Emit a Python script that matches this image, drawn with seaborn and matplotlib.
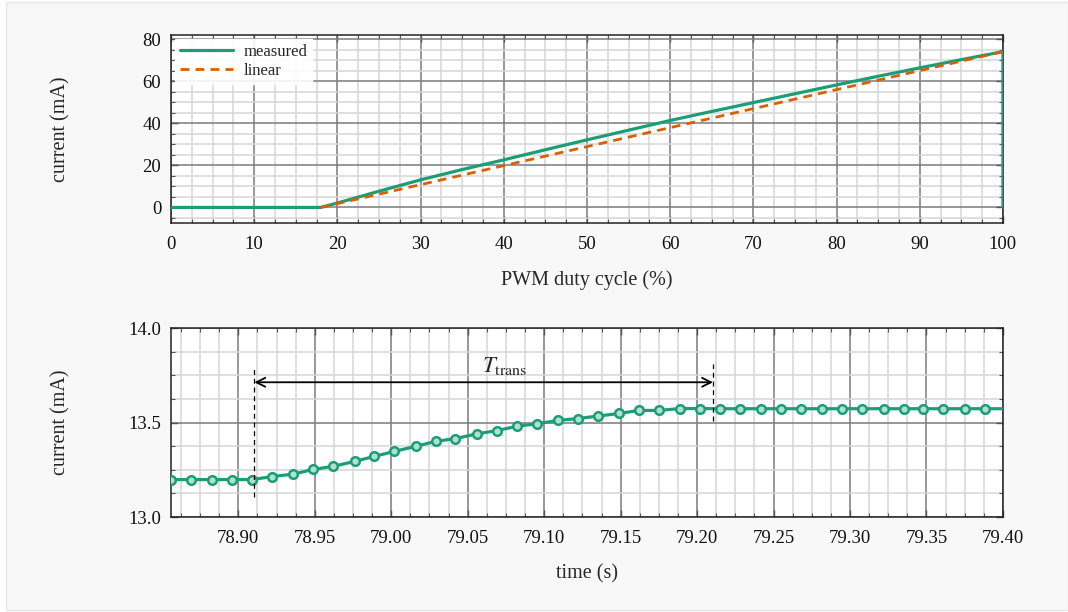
import numpy as np
import pandas as pd
import matplotlib
matplotlib.use("Agg")
import matplotlib.pyplot as plt
from matplotlib.ticker import MultipleLocator, FormatStrFormatter
from matplotlib.patches import Rectangle
import seaborn as sns

# top panel: current vs PWM duty cycle
duty = [0, 18, 20, 25, 30, 35, 40, 45, 50, 55, 60, 65, 70, 75, 80, 85, 90, 95, 100, 100]
current_meas = [0, 0, 2.1, 7.7, 13.1, 18.0, 22.6, 27.4, 32.1, 36.7, 41.3, 45.6, 49.8,
                54.0, 58.2, 62.3, 66.3, 70.2, 74.0, 0]
duty_lin = [18, 100]
current_lin = [0, 74.0]

# bottom panel: step response in time
time_s = [78.856, 78.869, 78.883, 78.896, 78.909, 78.922, 78.936, 78.949, 78.962, 78.976,
          78.989, 79.002, 79.016, 79.029, 79.042, 79.056, 79.069, 79.082, 79.095, 79.109,
          79.122, 79.135, 79.149, 79.162, 79.175, 79.189, 79.202, 79.215, 79.228, 79.242,
          79.255, 79.268, 79.282, 79.295, 79.308, 79.322, 79.335, 79.348, 79.361, 79.375,
          79.388, 79.401]
current_step = [13.198, 13.198, 13.198, 13.198, 13.198, 13.214, 13.227, 13.252, 13.268, 13.294,
                13.321, 13.347, 13.374, 13.400, 13.415, 13.440, 13.457, 13.480, 13.493, 13.511,
                13.521, 13.534, 13.548, 13.564, 13.564, 13.574, 13.574, 13.573, 13.573, 13.573,
                13.573, 13.573, 13.573, 13.573, 13.573, 13.573, 13.573, 13.573, 13.573, 13.573,
                13.573, 13.573]
t_start, t_end = 78.9105, 79.2104

GREEN = "#1b9e77"
ORANGE = "#d95f02"
FILL = "#b0e1cd"

sns.set_style("whitegrid")
plt.rcParams['font.family'] = ['Liberation Serif', 'DejaVu Serif']
plt.rcParams['mathtext.fontset'] = 'stix'

fig = plt.figure(figsize=(10.68, 6.12), dpi=100)
fig.patch.set_facecolor("white")
fig.patches.append(Rectangle((6 / 1068, 2 / 612), 1 - 6 / 1068, 608 / 612,
                             transform=fig.transFigure, facecolor="#f8f8f8",
                             edgecolor="#e6e6e6", lw=1, zorder=-10))

ax1 = fig.add_axes([0.1601, 0.6356, 0.7790, 0.3072])
ax2 = fig.add_axes([0.1601, 0.1552, 0.7790, 0.3088])


def style_grid(ax):
    ax.set_facecolor("white")
    ax.grid(which="major", color="#7a7a7a", lw=1.1, zorder=0)
    ax.grid(which="minor", color="#d6d6d6", lw=1.1, zorder=0)
    ax.set_axisbelow(True)
    for s in ax.spines.values():
        s.set_color("#222222")
        s.set_linewidth(1.1)
    ax.tick_params(which="both", direction="in", colors="#555555", labelcolor="#111111",
                   labelsize=13.5, bottom=True, left=True, top=True, right=True)
    ax.tick_params(axis="x", which="major", length=5, width=1.0, pad=9)
    ax.tick_params(axis="y", which="major", length=5, width=1.0, pad=7)
    ax.tick_params(which="minor", length=3, width=0.8)


df_meas = pd.DataFrame({"duty": duty, "current": current_meas})
df_lin = pd.DataFrame({"duty": duty_lin, "current": current_lin})
sns.lineplot(data=df_meas, x="duty", y="current", ax=ax1, color=GREEN, lw=2.3,
             sort=False, estimator=None, label="measured", zorder=3)
sns.lineplot(data=df_lin, x="duty", y="current", ax=ax1, color=ORANGE, lw=2.0,
             linestyle=(0, (3.2, 2.2)), label="linear", zorder=4)
ax1.set_xlim(0, 100)
ax1.set_ylim(-7.4, 81.9)
ax1.xaxis.set_major_locator(MultipleLocator(10))
ax1.xaxis.set_minor_locator(MultipleLocator(2.5))
ax1.yaxis.set_major_locator(MultipleLocator(20))
ax1.yaxis.set_minor_locator(MultipleLocator(5))
style_grid(ax1)
ax1.set_xlabel("PWM duty cycle (%)", fontsize=14.5, labelpad=13)
ax1.set_ylabel("current (mA)", fontsize=14.5)
ax1.yaxis.set_label_coords(-0.1214, 0.5)
leg = ax1.legend(loc="upper left", fontsize=12, frameon=True, fancybox=False,
                 borderpad=0.3, handlelength=3.2, labelspacing=0.15,
                 borderaxespad=0.25, handletextpad=0.6)
leg.get_frame().set_edgecolor("white")
leg.get_frame().set_alpha(0.9)

df_step = pd.DataFrame({"time": time_s, "current": current_step})
inside = df_step[df_step["time"] <= 79.40]
sns.lineplot(data=df_step, x="time", y="current", ax=ax2, color=GREEN, lw=2.3,
             estimator=None, zorder=3)
ax2.plot(inside["time"], inside["current"], ls="none", marker="o", ms=6.2,
         mfc=FILL, mec=GREEN, mew=1.8, zorder=4)
ax2.set_xlim(78.856, 79.40)
ax2.set_ylim(13.0, 14.0)
ax2.xaxis.set_major_locator(MultipleLocator(0.05))
ax2.xaxis.set_minor_locator(MultipleLocator(0.0125))
ax2.yaxis.set_major_locator(MultipleLocator(0.5))
ax2.yaxis.set_minor_locator(MultipleLocator(0.125))
ax2.xaxis.set_major_formatter(FormatStrFormatter("%.2f"))
ax2.yaxis.set_major_formatter(FormatStrFormatter("%.1f"))
style_grid(ax2)
ax2.set_xlabel("time (s)", fontsize=14.5, labelpad=13)
ax2.set_ylabel("current (mA)", fontsize=14.5)
ax2.yaxis.set_label_coords(-0.1214, 0.5)

# transition-time annotation
ax2.plot([t_start, t_start], [13.106, 13.782], color="black", lw=0.9,
         ls=(0, (4, 3)), zorder=5)
ax2.plot([t_end, t_end], [13.51, 13.81], color="black", lw=0.9,
         ls=(0, (4, 3)), zorder=5)
ax2.annotate("", xy=(t_end, 13.713), xytext=(t_start, 13.713),
             arrowprops=dict(arrowstyle="<->", color="black", lw=1.3,
                             shrinkA=0, shrinkB=0, mutation_scale=16), zorder=6)
ax2.text(79.074, 13.80, r"$T_{\mathrm{trans}}$", fontsize=16.5, ha="center",
         va="center", zorder=6)

fig.savefig("out.png", dpi=100, facecolor=fig.get_facecolor())
